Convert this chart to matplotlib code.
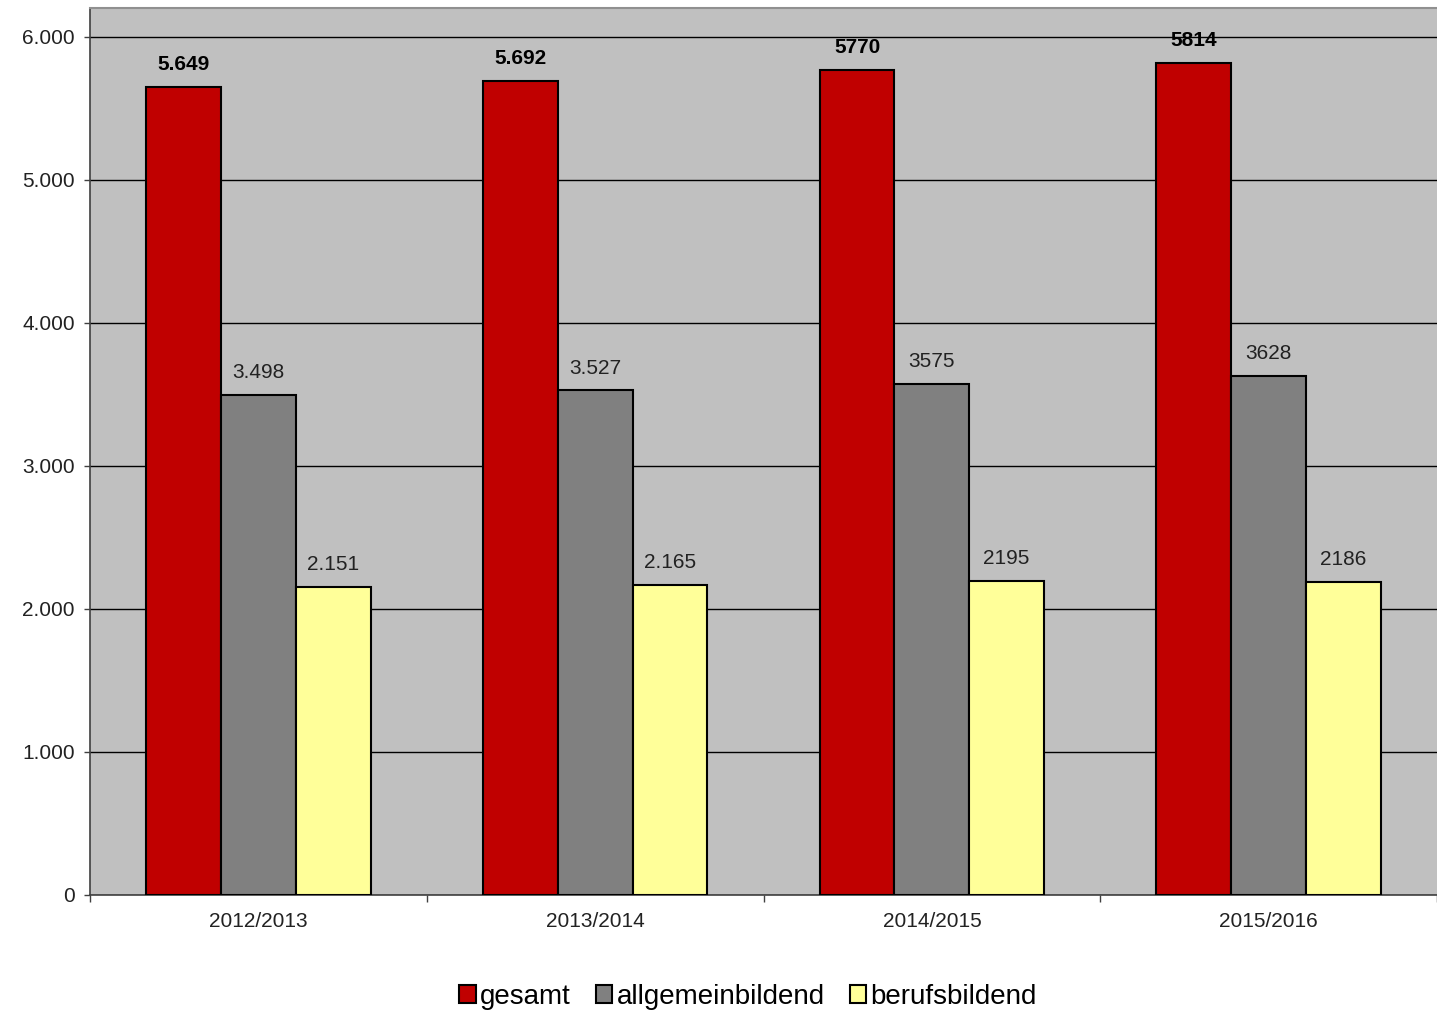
import matplotlib
matplotlib.use("Agg")
import matplotlib.pyplot as plt
import numpy as np

categories = ["2012/2013", "2013/2014", "2014/2015", "2015/2016"]
gesamt = [5649, 5692, 5770, 5814]
allgemein = [3498, 3527, 3575, 3628]
berufs = [2151, 2165, 2195, 2186]
gesamt_labels = ["5.649", "5.692", "5770", "5814"]
allgemein_labels = ["3.498", "3.527", "3575", "3628"]
berufs_labels = ["2.151", "2.165", "2195", "2186"]
series_names = ["gesamt", "allgemeinbildend", "berufsbildend"]
yticks = [0, 1000, 2000, 3000, 4000, 5000, 6000]
ytick_labels = ["0", "1.000", "2.000", "3.000", "4.000", "5.000", "6.000"]

plt.rcParams['font.family'] = ['Liberation Sans', 'DejaVu Sans']

fig = plt.figure(figsize=(14.37, 10.14), dpi=100)
ax = fig.add_axes([90/1437, 1-895/1014, 1-90/1437, (895-8)/1014])
ax.set_facecolor("#c0c0c0")

x = np.arange(len(categories))
w = 0.222
colors = ["#c00000", "#808080", "#ffff99"]
data = [gesamt, allgemein, berufs]
labels = [gesamt_labels, allgemein_labels, berufs_labels]
for i, (vals, col, name, labs) in enumerate(zip(data, colors, series_names, labels)):
    bars = ax.bar(x + (i - 1) * w, vals, w, color=col, edgecolor="black",
                  linewidth=1.5, label=name, zorder=3)
    for b, lab in zip(bars, labs):
        ax.text(b.get_x() + b.get_width() / 2, b.get_height() + 90, lab,
                ha="center", va="bottom", fontsize=15,
                fontweight="bold" if i == 0 else "normal",
                color="black" if i == 0 else "#222222", zorder=4)

ax.set_ylim(0, 6200)
ax.set_xlim(-0.5, -0.5 + (1437 - 90) / 341)
ax.set_yticks(yticks)
ax.set_yticklabels(ytick_labels, fontsize=15, color="#222222")
ax.yaxis.grid(True, color="black", linewidth=1, zorder=1)
ax.set_axisbelow(True)

ax.set_xticks(x)
ax.set_xticklabels(categories, fontsize=15, color="#222222")
ax.tick_params(axis="x", length=0, pad=12)
ax.set_xticks(np.arange(-0.5, len(categories), 1.0), minor=True)
ax.tick_params(axis="x", which="minor", length=5, width=1, color="#404040", direction="out")
ax.tick_params(axis="y", length=4, width=1, color="#404040", direction="out", pad=7)

ax.spines["right"].set_visible(False)
ax.spines["left"].set_color("#404040")
ax.spines["bottom"].set_color("#404040")
ax.spines["top"].set_color("#909090")
ax.spines["left"].set_linewidth(1.2)
ax.spines["bottom"].set_linewidth(1.2)
ax.spines["top"].set_linewidth(1.5)

handles, lbls = ax.get_legend_handles_labels()
fig.legend(handles, lbls, loc="center", bbox_to_anchor=(748/1437, 1-997/1014),
           ncol=3, frameon=False, fontsize=20, handlelength=0.6, handleheight=0.6,
           handletextpad=0.15, columnspacing=0.9)

fig.savefig("out.png", dpi=100, facecolor="white")
